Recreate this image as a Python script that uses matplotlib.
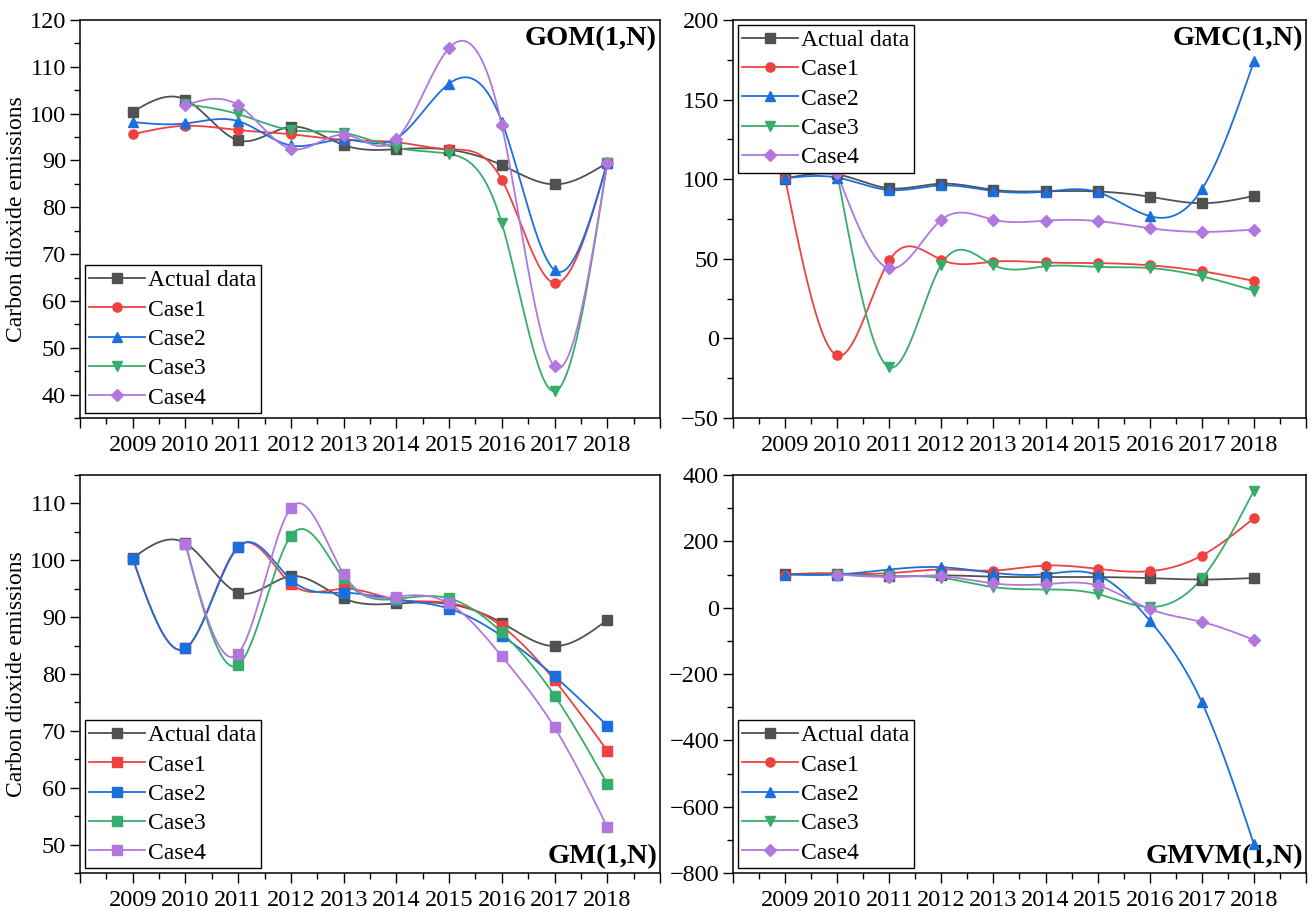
import numpy as np
import matplotlib
matplotlib.use("Agg")
import matplotlib.pyplot as plt
from matplotlib.lines import Line2D
from matplotlib.ticker import MultipleLocator

plt.rcParams['font.family'] = ['Liberation Serif', 'DejaVu Serif']

years = [2009, 2010, 2011, 2012, 2013, 2014, 2015, 2016, 2017, 2018]
series_names = ["Actual data", "Case1", "Case2", "Case3", "Case4"]
nan = np.nan

actual = [100.4, 103.0, 94.3, 97.2, 93.3, 92.4, 92.3, 89.0, 84.9, 89.5]

# GOM(1,N)
gom_case1 = [95.6, 97.4, 96.5, 95.6, 94.4, 93.9, 92.4, 85.9, 63.8, 89.5]
gom_case2 = [98.2, 97.9, 98.4, 93.2, 94.5, 94.7, 106.4, 98.3, 66.6, 89.5]
gom_case3 = [nan, 102.0, 99.9, 96.5, 95.9, 92.7, 91.4, 76.6, 40.7, 89.5]
gom_case4 = [nan, 101.8, 101.8, 92.5, 95.5, 94.5, 114.0, 97.5, 46.0, 89.5]

# GMC(1,N)
gmc_case1 = [100.6, -10.7, 49.0, 49.3, 48.2, 47.7, 47.3, 45.9, 42.2, 36.1]
gmc_case2 = [100.6, 101.0, 93.2, 96.1, 92.6, 92.2, 91.9, 76.8, 93.6, 174.0]
gmc_case3 = [nan, 103.8, -18.2, 46.4, 46.0, 45.3, 44.9, 44.2, 39.0, 30.0]
gmc_case4 = [nan, 103.8, 44.0, 74.5, 74.5, 74.0, 73.7, 69.2, 66.9, 68.4]

# GM(1,N)
gm_case1 = [100.3, 84.5, 102.4, 95.9, 95.0, 93.1, 92.5, 88.4, 78.9, 66.5]
gm_case2 = [100.3, 84.5, 102.3, 96.6, 94.3, 93.1, 91.5, 86.7, 79.6, 70.9]
gm_case3 = [nan, 102.9, 81.6, 104.3, 96.8, 93.2, 93.3, 87.3, 76.2, 60.7]
gm_case4 = [nan, 102.9, 83.6, 109.2, 97.6, 93.6, 92.4, 83.1, 70.6, 53.1]

# GMVM(1,N)
gmvm_case1 = [100.0, 102.0, 104.0, 115.0, 112.0, 127.0, 117.0, 110.0, 157.0, 270.0]
gmvm_case2 = [100.0, 100.0, 115.0, 122.0, 105.0, 101.0, 98.0, -39.0, -285.0, -713.0]
gmvm_case3 = [nan, 100.0, 95.0, 90.0, 62.0, 55.0, 41.0, 2.0, 88.0, 353.0]
gmvm_case4 = [nan, 100.0, 93.0, 95.0, 73.0, 71.0, 67.0, -4.0, -43.0, -97.0]

colors = ["#515151", "#F14040", "#1A6FDF", "#37AD6B", "#B177DE"]
markers_std = ["s", "o", "^", "v", "D"]
markers_gm = ["s", "s", "s", "s", "s"]


def natural_spline(x, y, n=400):
    x = np.asarray(x, float)
    y = np.asarray(y, float)
    m = len(x)
    h = np.diff(x)
    A = np.zeros((m, m))
    b = np.zeros(m)
    A[0, 0] = 1
    A[-1, -1] = 1
    for i in range(1, m - 1):
        A[i, i - 1] = h[i - 1]
        A[i, i] = 2 * (h[i - 1] + h[i])
        A[i, i + 1] = h[i]
        b[i] = 6 * ((y[i + 1] - y[i]) / h[i] - (y[i] - y[i - 1]) / h[i - 1])
    M = np.linalg.solve(A, b)
    xs = np.linspace(x[0], x[-1], n)
    idx = np.clip(np.searchsorted(x, xs) - 1, 0, m - 2)
    x0 = x[idx]; x1 = x[idx + 1]; hh = x1 - x0
    t0 = x1 - xs; t1 = xs - x0
    ys = (M[idx] * t0 ** 3 / (6 * hh) + M[idx + 1] * t1 ** 3 / (6 * hh)
          + (y[idx] / hh - M[idx] * hh / 6) * t0
          + (y[idx + 1] / hh - M[idx + 1] * hh / 6) * t1)
    return xs, ys


W, H = 1313, 910
fig = plt.figure(figsize=(W / 100, H / 100), dpi=100)


def make_ax(l, r, t, b):
    return fig.add_axes([l / W, 1 - b / H, (r - l) / W, (b - t) / H])


panels = [
    dict(box=(80, 660, 20, 418), data=[actual, gom_case1, gom_case2, gom_case3, gom_case4],
         ylim=(35, 120), major=10, minor=5, title="GOM(1,N)", tpos="top",
         legloc="lower left", mk=markers_std, ylabel=True),
    dict(box=(733, 1306, 20, 418), data=[actual, gmc_case1, gmc_case2, gmc_case3, gmc_case4],
         ylim=(-50, 200), major=50, minor=25, title="GMC(1,N)", tpos="top",
         legloc="upper left", mk=markers_std, ylabel=False),
    dict(box=(80, 660, 475, 873), data=[actual, gm_case1, gm_case2, gm_case3, gm_case4],
         ylim=(45, 115), major=10, minor=5, title="GM(1,N)", tpos="bottom",
         legloc="lower left", mk=markers_gm, ylabel=True),
    dict(box=(733, 1306, 475, 873), data=[actual, gmvm_case1, gmvm_case2, gmvm_case3, gmvm_case4],
         ylim=(-800, 400), major=200, minor=100, title="GMVM(1,N)", tpos="bottom",
         legloc="lower left", mk=markers_std, ylabel=False),
]

fs = 17.5
for p in panels:
    ax = make_ax(*p["box"])
    handles = []
    for k, (vals, name) in enumerate(zip(p["data"], series_names)):
        v = np.asarray(vals, float)
        xx = np.asarray(years, float)
        ok = ~np.isnan(v)
        xs, ys = natural_spline(xx[ok], v[ok])
        ms = 6.6 if p["mk"][k] != "D" else 6.0
        ax.plot(xs, ys, color=colors[k], lw=1.3, zorder=2 + k * 0.1)
        ax.plot(xx[ok], v[ok], ls="none", marker=p["mk"][k], color=colors[k],
                ms=ms, zorder=3 + k * 0.1)
        handles.append(Line2D([], [], color=colors[k], lw=1.3, marker=p["mk"][k], ms=ms))
    ax.set_xlim(2008, 2019)
    ax.set_ylim(*p["ylim"])
    ticks = list(range(2008, 2020))
    ax.set_xticks(ticks)
    ax.set_xticklabels([str(t) if t in years else "" for t in ticks])
    ax.xaxis.set_minor_locator(MultipleLocator(0.5))
    ax.yaxis.set_major_locator(MultipleLocator(p["major"]))
    ax.yaxis.set_minor_locator(MultipleLocator(p["minor"]))
    ax.tick_params(which="both", direction="out", labelsize=fs, width=1.0)
    ax.tick_params(which="major", length=7)
    ax.tick_params(which="minor", length=4.5)
    ax.tick_params(axis="x", pad=5)
    ax.tick_params(axis="y", pad=3)
    for s in ax.spines.values():
        s.set_linewidth(1.1)
    if p["ylabel"]:
        ax.set_ylabel("Carbon dioxide emissions", fontsize=17)
        ax.yaxis.set_label_coords(-0.092, 0.5)
    if p["tpos"] == "top":
        ax.text(0.995, 0.985, p["title"], transform=ax.transAxes, ha="right", va="top",
                fontsize=20.5, fontweight="bold")
    else:
        ax.text(0.995, 0.01, p["title"], transform=ax.transAxes, ha="right", va="bottom",
                fontsize=20.5, fontweight="bold")
    leg = ax.legend(handles, series_names, loc=p["legloc"], fontsize=17, frameon=True,
                    fancybox=False, edgecolor="black", handlelength=2.35, handletextpad=0.15,
                    labelspacing=0.33, borderpad=0.2, borderaxespad=0.2, framealpha=1)
    leg.get_frame().set_linewidth(1.0)

fig.savefig("out.png", dpi=100)
